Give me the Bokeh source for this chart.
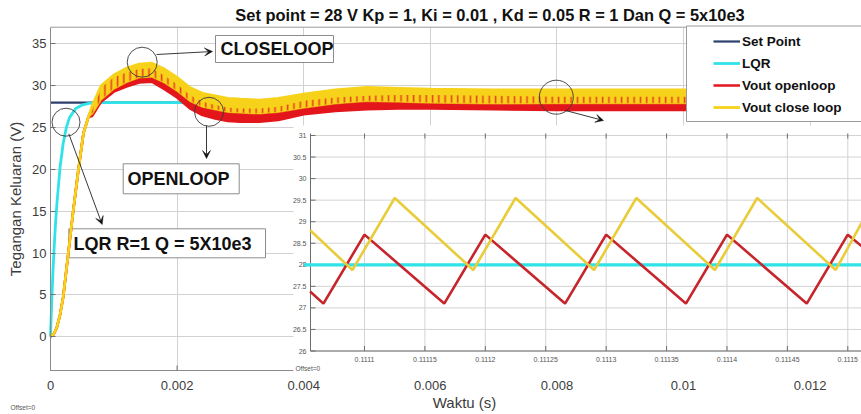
from bokeh.plotting import figure
from bokeh.models import (Range1d, FixedTicker, CustomJSTickFormatter, Label, Arrow,
                          VeeHead, Legend, LegendItem)
from bokeh.core.properties import value
from bokeh.embed import file_html
from bokeh.resources import INLINE

# ---------------- data ----------------
title_text = "Set point = 28 V Kp = 1, Ki = 0.01 , Kd = 0.05 R = 1 Dan Q = 5x10e3"
x_label = "Waktu (s)"
y_label = "Tegangan Keluaran (V)"
x_ticks = [0, 0.002, 0.004, 0.006, 0.008, 0.01, 0.012]
y_ticks = [0, 5, 10, 15, 20, 25, 30, 35]

sp_t = [0, 0.0128]
sp_v = [28, 28]

lqr_t = [0, 0.00002, 0.00004, 0.00006, 0.00008, 0.0001, 0.00015, 0.0002, 0.00025,
         0.0003, 0.0004, 0.0005, 0.0006, 0.0008, 0.0128]
lqr_v = [0, 4.4, 8.0, 11.0, 13.6, 15.8, 20.2, 23.1, 25.0, 26.2, 27.3, 27.7, 27.9, 28.0, 28.0]

# ripple envelopes (min / max) of the open loop and close loop outputs
vt = [0, 0.00005, 0.0001, 0.00015, 0.0002, 0.00028, 0.00036, 0.00044, 0.00052, 0.0006,
      0.00066, 0.0008, 0.001, 0.0012, 0.0014, 0.0016, 0.0018, 0.002, 0.0022, 0.0024,
      0.0026, 0.0028, 0.003, 0.0033, 0.0036, 0.004, 0.0045, 0.005, 0.0055, 0.006,
      0.007, 0.008, 0.009, 0.01, 0.011, 0.0128]
yel_hi = [0, 0.3, 1.1, 2.6, 4.7, 9.9, 15.1, 19.9, 24.3, 26.3,
          27.6, 30.0, 31.3, 32.1, 32.6, 32.7, 32.0, 31.0, 29.8, 29.1,
          28.8, 28.5, 28.4, 28.3, 28.5, 29.0, 29.5, 29.8, 29.7, 29.6,
          29.5, 29.5, 29.5, 29.5, 29.5, 29.5]
yel_lo = [0, 0.3, 1.1, 2.6, 4.7, 9.9, 15.1, 19.9, 24.3, 26.3,
          26.6, 28.3, 29.6, 30.4, 30.95, 31.05, 30.35, 29.35, 28.15, 27.45,
          27.15, 26.85, 26.75, 26.65, 26.85, 27.35, 27.85, 28.15, 28.05, 27.95,
          27.85, 27.88, 27.88, 27.88, 27.88, 27.88]
red_hi = [0, 0.3, 1.1, 2.6, 4.7, 9.9, 15.1, 19.9, 24.3, 26.3,
          27.4, 29.8, 31.0, 31.6, 32.0, 32.1, 31.2, 30.2, 28.9, 28.1,
          27.7, 27.4, 27.3, 27.3, 27.5, 28.2, 28.6, 28.8, 28.9, 28.9,
          28.8, 28.7, 28.7, 28.7, 28.7, 28.7]
red_lo = [0, 0.3, 1.1, 2.6, 4.7, 9.9, 15.1, 19.9, 24.3, 26.3,
          26.4, 28.1, 29.3, 29.9, 30.4, 30.5, 29.6, 28.6, 27.3, 26.5,
          26.1, 25.8, 25.7, 25.7, 25.9, 26.6, 27.0, 27.2, 27.3, 27.3,
          27.2, 27.1, 27.1, 27.1, 27.1, 27.1]

# zoomed inset (steady state)
inset_x_ticks = [0.1111, 0.11115, 0.1112, 0.11125, 0.1113, 0.11135, 0.1114, 0.11145, 0.1115]
inset_x_labels = ["0.1111", "0.11115", "0.1112", "0.11125", "0.1113", "0.11135",
                  "0.1114", "0.11145", "0.1115"]
inset_y_ticks = [26, 26.5, 27, 27.5, 28, 28.5, 29, 29.5, 30, 30.5, 31]
inset_y_labels = ["26", "26.5", "27", "27.5", "28", "28.5", "29", "29.5", "30", "30.5", "31"]
inset_lqr_t = [0.11105, 0.11152]
inset_lqr_v = [28, 28]
inset_red_t = [0.111055, 0.111066, 0.1111, 0.111166, 0.1112, 0.111266, 0.1113,
               0.111366, 0.1114, 0.111466, 0.1115, 0.111512]
inset_red_v = [27.38, 27.1, 28.7, 27.1, 28.7, 27.1, 28.7, 27.1, 28.7, 27.1, 28.7, 28.42]
inset_yel_t = [0.111055, 0.11109, 0.111125, 0.11119, 0.111225, 0.11129, 0.111325,
               0.11139, 0.111425, 0.11149, 0.111512]
inset_yel_v = [28.8, 27.88, 29.55, 27.88, 29.55, 27.88, 29.55, 27.88, 29.55, 27.88, 29.0]

legend_labels = ["Set Point", "LQR", "Vout openloop", "Vout close loop"]

# ---------------- layout (canvas pixels; frame = whole canvas) ----------------
W, H = 861, 414
PX_X0, PX_PER_X = 50.0, 63300.0      # x = 0 at px 50
PY_Y0, PX_PER_Y = 336.2, 8.363       # y = 0 at py 336.2


def px2x(px):
    return (px - PX_X0) / PX_PER_X


def py2y(py):
    return (PY_Y0 - py) / PX_PER_Y


# inset scale anchors: 0.1111 at px 364, 0.1115 at px 847.3; 26 at py 350.5, 31 at py 135
KX = 0.0004 / (847.3 - 364)
KY = 5.0 / (350.5 - 135)
IX0 = 0.1111 - 364 * KX
IX1 = 0.1111 + (W - 364) * KX
IY0 = 26 - (H - 350.5) * KY
IY1 = 31 + 135 * KY
I_LEFT = 0.1111 - (364 - 310) * KX
I_RIGHT = IX1 + 0.00001
I_TOP = 31 + 2 * KY

NAVY = "#2d3f6c"
CYAN = "#30e3e8"
RED = "#e3161c"
YEL = "#f7d21a"
I_RED = "#c6252b"
I_YEL = "#e9cc3a"
FONT = "Liberation Sans"

p = figure(width=W, height=H, x_range=Range1d(px2x(0), px2x(W)),
           y_range=Range1d(py2y(H), py2y(0)),
           output_backend="svg", toolbar_location=None, title=None, min_border=0,
           background_fill_color="white", border_fill_color="white")
p.extra_x_ranges = {"ix": Range1d(IX0, IX1)}
p.extra_y_ranges = {"iy": Range1d(IY0, IY1)}
p.outline_line_color = None

Y_BOT = py2y(370)
Y_TOP = py2y(26.7)

p.xaxis.fixed_location = Y_BOT
p.yaxis.fixed_location = 0
p.yaxis.bounds = (Y_BOT, Y_TOP)
p.xaxis.ticker = FixedTicker(ticks=x_ticks)
p.xaxis.formatter = CustomJSTickFormatter(code="return String(Number(tick.toPrecision(6)));")
p.yaxis.ticker = FixedTicker(ticks=y_ticks)
p.xaxis.axis_line_color = None
p.xaxis.major_tick_line_color = None
p.yaxis.axis_line_color = "#8a8a8a"
p.yaxis.major_tick_line_color = "#707070"
p.axis.major_tick_in = 5
p.axis.major_tick_out = 0
p.axis.minor_tick_line_color = None
p.axis.major_label_text_font = FONT
p.axis.major_label_text_font_size = "13px"
p.axis.major_label_text_color = "#3c3c3c"
p.xaxis.major_label_standoff = 10
p.yaxis.major_label_standoff = 4
p.yaxis.axis_label = y_label
p.yaxis.axis_label_text_font = FONT
p.yaxis.axis_label_text_font_size = "15px"
p.yaxis.axis_label_text_font_style = "normal"
p.yaxis.axis_label_text_color = "#3c3c3c"
p.yaxis.axis_label_standoff = 5
p.grid.grid_line_color = "#d2d2d2"
p.xgrid.cross_bounds = (Y_BOT, Y_TOP)
p.ygrid.cross_bounds = (0, px2x(W))

# annotation text boxes (behind curves)
p.quad(left=[px2x(215), px2x(122.7), px2x(68.3)], right=[px2x(333), px2x(238.7), px2x(265)],
       top=[py2y(35), py2y(163.3), py2y(228.3)], bottom=[py2y(62), py2y(193.3), py2y(257.3)],
       fill_color="white", line_color="#8c8c8c", line_width=1)

# main curves
r_sp = p.line(sp_t, sp_v, line_color=NAVY, line_width=2.2)
r_lqr = p.line(lqr_t, lqr_v, line_color=CYAN, line_width=2.8)
p.varea(x=vt, y1=red_lo, y2=red_hi, fill_color=RED)
r_red = p.line(vt, red_hi, line_color=RED, line_width=2.5)
p.line(vt, red_lo, line_color=RED, line_width=2.5)
p.varea(x=vt, y1=yel_lo, y2=yel_hi, fill_color=YEL)
# interleaved ripple teeth where the two bands overlap
p.varea(x=vt, y1=yel_lo, y2=red_hi, fill_color=YEL, hatch_pattern="vertical_line",
        hatch_color=RED, hatch_scale=6.3, hatch_weight=1.6, hatch_alpha=0.75)
r_yel = p.line(vt, yel_hi, line_color=YEL, line_width=2.8)
p.line(vt, yel_lo, line_color=YEL, line_width=1.5, line_alpha=0.6)

# frame spines: top line and the visible part of the bottom line
p.line([0, px2x(W)], [Y_TOP, Y_TOP], line_color="#9a9a9a", line_width=1)
p.line([0, px2x(293)], [Y_BOT, Y_BOT], line_color="#8a8a8a", line_width=1)
vis_ticks = [t for t in x_ticks if t < px2x(290)]
p.segment(x0=vis_ticks, y0=[Y_BOT] * len(vis_ticks), x1=vis_ticks,
          y1=[Y_BOT + 5 / PX_PER_Y] * len(vis_ticks), line_color="#707070", line_width=1)

# inset background
p.quad(left=[px2x(293)], right=[px2x(W + 20)], top=[py2y(125)], bottom=[py2y(373)],
       fill_color="white", line_color=None)

ik = dict(x_range_name="ix", y_range_name="iy")
nx, ny = len(inset_x_ticks), len(inset_y_ticks)
p.segment(x0=inset_x_ticks, y0=[26] * nx, x1=inset_x_ticks, y1=[I_TOP] * nx,
          line_color="#d3d3d3", line_width=1, **ik)
p.segment(x0=[I_LEFT] * ny, y0=inset_y_ticks, x1=[I_RIGHT] * ny, y1=inset_y_ticks,
          line_color="#d3d3d3", line_width=1, **ik)
p.segment(x0=[I_LEFT, I_LEFT], y0=[26, 26], x1=[I_LEFT, I_RIGHT], y1=[I_TOP, 26],
          line_color="#6e6e6e", line_width=1, **ik)
p.segment(x0=[I_LEFT] * ny, y0=inset_y_ticks, x1=[I_LEFT + 5 * KX] * ny, y1=inset_y_ticks,
          line_color="#6e6e6e", line_width=1, **ik)
p.segment(x0=inset_x_ticks, y0=[26] * nx, x1=inset_x_ticks, y1=[26 + 5 * KY] * nx,
          line_color="#6e6e6e", line_width=1, **ik)
p.segment(x0=inset_x_ticks, y0=[I_TOP] * nx, x1=inset_x_ticks, y1=[I_TOP - 5 * KY] * nx,
          line_color="#6e6e6e", line_width=1, **ik)
p.text(x=[I_LEFT - 4 * KX] * ny, y=inset_y_ticks, text=inset_y_labels,
       text_align="right", text_baseline="middle", text_font=value(FONT),
       text_font_size="7px", text_color="#555555", **ik)
p.text(x=inset_x_ticks, y=[26 - 8.5 * KY] * nx, text=inset_x_labels,
       text_align="center", text_baseline="middle", text_font=value(FONT),
       text_font_size="7px", text_color="#555555", **ik)
p.line(inset_lqr_t, inset_lqr_v, line_color=CYAN, line_width=3.2, **ik)
p.line(inset_red_t, inset_red_v, line_color=I_RED, line_width=2.6, **ik)
p.line(inset_yel_t, inset_yel_v, line_color=I_YEL, line_width=2.6, **ik)

# legend box
p.quad(left=[px2x(686)], right=[px2x(W + 20)], top=[py2y(25.5)], bottom=[py2y(121)],
       fill_color="white", line_color="#9a9a9a", line_width=1)

# highlight circles
p.scatter(x=[px2x(141.7), px2x(65.5), px2x(208.5), px2x(555.8)],
          y=[py2y(61.7), py2y(121.7), py2y(111.3), py2y(96.7)],
          size=[30, 28, 29, 34], marker="circle", fill_alpha=0,
          line_color="#3a3a3a", line_width=0.9)

# arrows
for (xs, ys, xe, ye) in [(156, 54, 212, 51), (206, 125, 206, 158),
                         (68.3, 133.3, 101.7, 224), (565, 110, 603, 120)]:
    p.add_layout(Arrow(end=VeeHead(size=8, fill_color="#111111", line_color="#111111",
                                   line_width=0.5),
                       x_start=px2x(xs), y_start=py2y(ys), x_end=px2x(xe), y_end=py2y(ye),
                       line_color="#222222", line_width=0.9))

# box labels
for txt, lx, ly in [("CLOSELOOP", 220, 48.5), ("OPENLOOP", 127, 178.3),
                    ("LQR R=1 Q = 5X10e3", 73, 243)]:
    p.add_layout(Label(x=px2x(lx), y=py2y(ly), text=txt, text_align="left",
                       text_baseline="middle", text_font=FONT, text_font_size="18px",
                       text_font_style="bold", text_color="#111111"))

# title, x-axis label, offset notes
p.add_layout(Label(x=px2x(489.5), y=py2y(14), text=title_text, text_align="center",
                   text_baseline="middle", text_font=FONT, text_font_size="16.4px",
                   text_font_style="bold", text_color="#111111"))
p.add_layout(Label(x=px2x(464), y=py2y(402), text=x_label, text_align="center",
                   text_baseline="middle", text_font=FONT, text_font_size="15px",
                   text_color="#3c3c3c"))
p.add_layout(Label(x=px2x(295), y=py2y(368), text="Offset=0", text_align="left",
                   text_baseline="middle", text_font=FONT, text_font_size="6.5px",
                   text_color="#555555"))
p.add_layout(Label(x=px2x(10), y=py2y(407), text="Offset=0", text_align="left",
                   text_baseline="middle", text_font=FONT, text_font_size="6.5px",
                   text_color="#555555"))

legend = Legend(items=[LegendItem(label=legend_labels[0], renderers=[r_sp]),
                       LegendItem(label=legend_labels[1], renderers=[r_lqr]),
                       LegendItem(label=legend_labels[2], renderers=[r_red]),
                       LegendItem(label=legend_labels[3], renderers=[r_yel])],
                location=(713, H - 116), padding=0, spacing=4, margin=0,
                glyph_height=18, glyph_width=27, label_height=18, label_standoff=2,
                label_text_font=FONT, label_text_font_size="13.5px",
                label_text_font_style="bold", label_text_color="#111111",
                background_fill_alpha=0, border_line_alpha=0)
p.add_layout(legend)

open("out.html", "w").write(file_html(p, INLINE))
